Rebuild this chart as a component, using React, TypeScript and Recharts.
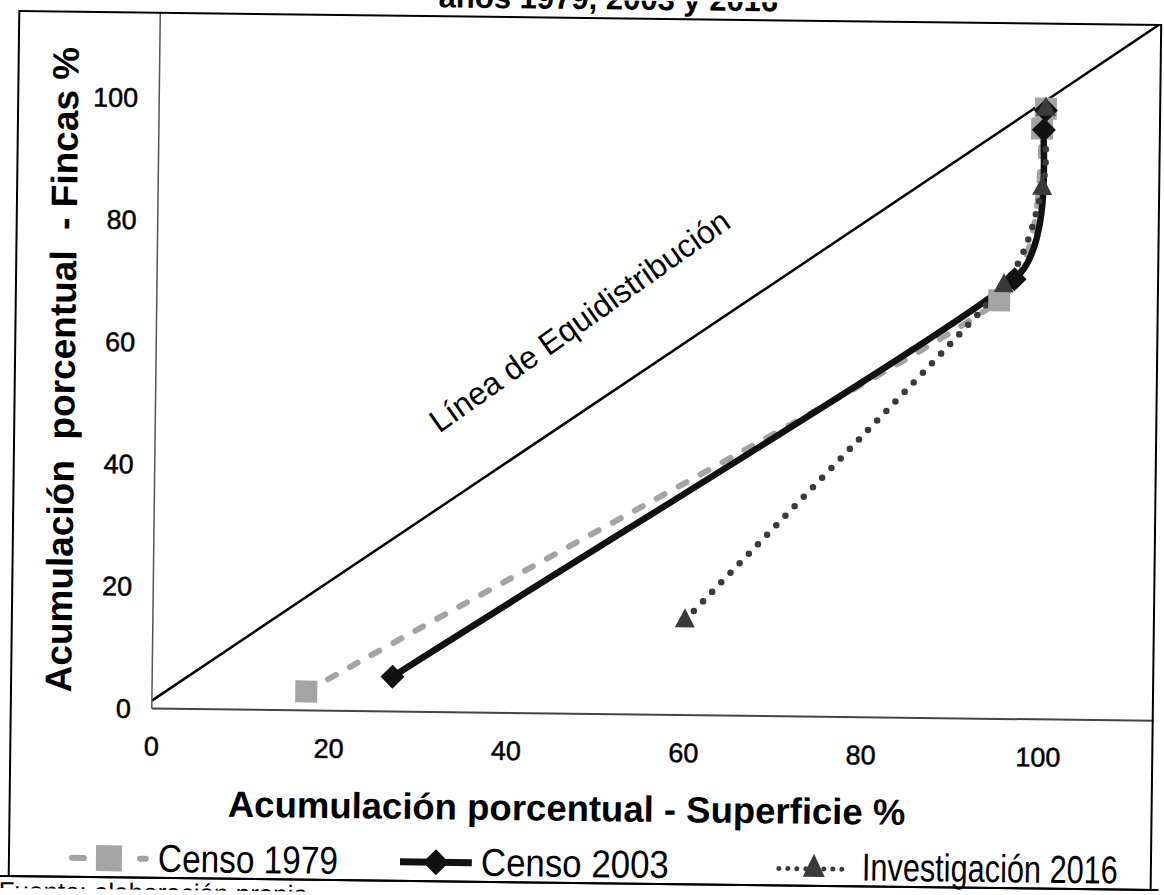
import React from 'react';
import { LineChart, Line, XAxis, YAxis, Legend } from 'recharts';

// ---- data ----
const xTicks = [0, 20, 40, 60, 80, 100];
const yTicks = [0, 20, 40, 60, 80, 100];
const xMax = 113;
const yMax = 113.9;

const censo1979Superficie = [17.4, 95, 99.6, 100];
const censo1979Fincas = [3.1, 68.5, 96.7, 100];

const censo2003Superficie = [27.1, 96.7, 99.8, 100];
const censo2003Fincas = [5.7, 72, 96.5, 99.7];

const inv2016Superficie = [60, 95.5, 99.7, 100];
const inv2016Fincas = [15.5, 71, 87, 100];

const equiSuperficie = [0, 112.6];
const equiFincas = [1.3, 113.9];

const seriesNames = ['Censo 1979', 'Censo 2003', 'Investigación 2016'];
const titleText = 'años 1979, 2003 y 2016';
const xTitle = 'Acumulación porcentual - Superficie %';
const yTitle = 'Acumulación  porcentual  - Fincas %';
const equiLabel = 'Línea de Equidistribución';
const sourceText = 'Fuente: elaboración propia';

const toPoints = (xs: number[], ys: number[]) => xs.map((x, i) => ({ x, y: ys[i] }));

const data1979 = toPoints(censo1979Superficie, censo1979Fincas);
const data2003 = toPoints(censo2003Superficie, censo2003Fincas);
const data2016 = toPoints(inv2016Superficie, inv2016Fincas);
const dataEqui = toPoints(equiSuperficie, equiFincas);

const SANS = "'Liberation Sans', Arial, sans-serif";

const C1979 = '#a4a4a4';
const C2003 = '#111111';
const C2016 = '#3a3a3a';

// Excel-like smoothed line: Bezier segments whose tangents follow the
// neighbouring points, with handle length limited by the adjacent segments.
const excelSmooth: any = (context: any) => {
  let pts: number[][] = [];
  return {
    areaStart() {},
    areaEnd() {},
    lineStart() {
      pts = [];
    },
    point(x: number, y: number) {
      pts.push([+x, +y]);
    },
    lineEnd() {
      const n = pts.length;
      if (!n) return;
      context.moveTo(pts[0][0], pts[0][1]);
      if (n === 1) return;
      const dist = (a: number[], b: number[]) => Math.hypot(b[0] - a[0], b[1] - a[1]);
      const dirs = pts.map((p, i) => {
        const prev = pts[Math.max(0, i - 1)];
        const next = pts[Math.min(n - 1, i + 1)];
        const dx = next[0] - prev[0];
        const dy = next[1] - prev[1];
        const len = Math.hypot(dx, dy) || 1;
        return [dx / len, dy / len];
      });
      for (let i = 0; i < n - 1; i++) {
        const a = pts[i];
        const b = pts[i + 1];
        const seg = dist(a, b);
        const prevSeg = i > 0 ? dist(pts[i - 1], a) : Infinity;
        const nextSeg = i + 2 < n ? dist(b, pts[i + 2]) : Infinity;
        const h1 = Math.min(seg / 3, (1.6 * prevSeg) / 3);
        const h2 = Math.min(seg / 3, (1.6 * nextSeg) / 3);
        context.bezierCurveTo(
          a[0] + dirs[i][0] * h1,
          a[1] + dirs[i][1] * h1,
          b[0] - dirs[i + 1][0] * h2,
          b[1] - dirs[i + 1][1] * h2,
          b[0],
          b[1]
        );
      }
    },
  };
};

const SquareDot = (props: any) => {
  const { cx, cy } = props;
  if (cx == null || cy == null) return <g />;
  const s = 22;
  return <rect x={cx - s / 2} y={cy - s / 2} width={s} height={s} fill={C1979} />;
};
const DiamondDot = (props: any) => {
  const { cx, cy } = props;
  if (cx == null || cy == null) return <g />;
  const r = 12;
  return <polygon points={`${cx},${cy - r} ${cx + r},${cy} ${cx},${cy + r} ${cx - r},${cy}`} fill={C2003} />;
};
const TriangleDot = (props: any) => {
  const { cx, cy } = props;
  if (cx == null || cy == null) return <g />;
  return <polygon points={`${cx},${cy - 12} ${cx + 10},${cy + 7} ${cx - 10},${cy + 7}`} fill={C2016} />;
};

const LegendIcon = ({ name }: { name: string }) => {
  if (name === seriesNames[0]) {
    return (
      <svg width={80} height={44} style={{ display: 'block' }}>
        <line x1={3} y1={23} x2={77} y2={23} stroke={C1979} strokeWidth={6} strokeDasharray="12 56 12" strokeLinecap="round" />
        <rect x={27} y={10} width={26} height={26} fill={C1979} />
      </svg>
    );
  }
  if (name === seriesNames[1]) {
    return (
      <svg width={72} height={44} style={{ display: 'block' }}>
        <line x1={0} y1={23} x2={72} y2={23} stroke={C2003} strokeWidth={7} />
        <polygon points="36,10 49,23 36,36 23,23" fill={C2003} />
      </svg>
    );
  }
  return (
    <svg width={78} height={44} style={{ display: 'block' }}>
      <line x1={4} y1={25} x2={74} y2={25} stroke={C2016} strokeWidth={5} strokeDasharray="0 9" strokeLinecap="round" />
      <polygon points="39,10 50,33 28,33" fill={C2016} />
    </svg>
  );
};

const legendLayout: Record<string, { left: number; textWidth: number }> = {
  'Censo 1979': { left: 74, textWidth: 180 },
  'Censo 2003': { left: 405, textWidth: 188 },
  'Investigación 2016': { left: 780, textWidth: 256 },
};

const renderLegend = (props: any) => {
  const payload = (props.payload || []).filter((p: any) => seriesNames.includes(p.value));
  return (
    <div style={{ position: 'relative', width: 1164, height: 44 }}>
      {payload.map((entry: any) => {
        const lay = legendLayout[entry.value];
        return (
          <div
            key={entry.value}
            style={{ position: 'absolute', left: lay.left, top: 0, height: 44, display: 'flex', alignItems: 'center' }}
          >
            <LegendIcon name={entry.value} />
            <svg width={lay.textWidth + 6} height={44} overflow="visible" style={{ display: 'block', marginLeft: 9, overflow: 'visible' }}>
              <text
                x={0}
                y={36}
                fontFamily={SANS}
                fontSize={39}
                fill="#000"
                textLength={lay.textWidth}
                lengthAdjust="spacingAndGlyphs"
              >
                {entry.value}
              </text>
            </svg>
          </div>
        );
      })}
    </div>
  );
};

export default function App() {
  return (
    <>
      <style>{'body{margin:0;background:#fff}'}</style>
      <div
        style={{
          position: 'relative',
          width: 1164,
          height: 895,
          overflow: 'hidden',
          background: '#fff',
          transform: 'rotate(0.7deg)',
          transformOrigin: '582px 447px',
        }}
      >
        <LineChart width={1164} height={895} margin={{ top: 18, right: 7, left: 95, bottom: 6 }}>
          <XAxis
            type="number"
            dataKey="x"
            domain={[0, xMax]}
            ticks={xTicks}
            allowDataOverflow
            height={117}
            tickSize={0}
            tickMargin={28}
            axisLine={{ stroke: '#444', strokeWidth: 2 }}
            tick={{ fill: '#000', fontSize: 27, fontFamily: SANS, stroke: '#000', strokeWidth: 0.5 }}
          />
          <YAxis
            type="number"
            dataKey="y"
            domain={[0, yMax]}
            ticks={yTicks}
            allowDataOverflow
            width={60}
            tickSize={0}
            tickMargin={21}
            axisLine={{ stroke: '#555', strokeWidth: 1.5 }}
            tick={{ fill: '#000', fontSize: 27, fontFamily: SANS, stroke: '#000', strokeWidth: 0.5 }}
          />
          <Legend verticalAlign="bottom" content={renderLegend} wrapperStyle={{ top: 841, left: 0, width: 1164, height: 44 }} />
          <Line
            data={dataEqui}
            dataKey="y"
            name="equi"
            legendType="none"
            type="linear"
            stroke="#000"
            strokeWidth={2.5}
            dot={false}
            activeDot={false}
            isAnimationActive={false}
          />
          <Line
            data={data1979}
            dataKey="y"
            name={seriesNames[0]}
            type={excelSmooth}
            stroke={C1979}
            strokeWidth={6}
            strokeDasharray="9 16"
            strokeLinecap="round"
            dot={<SquareDot />}
            activeDot={false}
            isAnimationActive={false}
          />
          <Line
            data={data2003}
            dataKey="y"
            name={seriesNames[1]}
            type={excelSmooth}
            stroke={C2003}
            strokeWidth={6.5}
            dot={<DiamondDot />}
            activeDot={false}
            isAnimationActive={false}
          />
          <Line
            data={data2016}
            dataKey="y"
            name={seriesNames[2]}
            type={excelSmooth}
            stroke={C2016}
            strokeWidth={6.5}
            strokeDasharray="0 13.2"
            strokeLinecap="round"
            dot={<TriangleDot />}
            activeDot={false}
            isAnimationActive={false}
          />
          <text x={603} y={9} textAnchor="middle" fontFamily={SANS} fontWeight="bold" fontSize={31} fill="#000">
            {titleText}
          </text>
          <text x={571} y={821} textAnchor="middle" fontFamily={SANS} fontWeight="bold" fontSize={36.5} fill="#000">
            {xTitle}
          </text>
          <text
            x={61}
            y={389}
            textAnchor="middle"
            fontFamily={SANS}
            fontWeight="bold"
            fontSize={37}
            fill="#000"
            xmlSpace="preserve"
            style={{ whiteSpace: 'pre' }}
            transform="rotate(-90 61 376)"
          >
            {yTitle}
          </text>
          <text
            x={578}
            y={332}
            textAnchor="middle"
            fontFamily={SANS}
            fontSize={32}
            fill="#000"
            transform="rotate(-36 578 321)"
          >
            {equiLabel}
          </text>
          <text x={4} y={907} fontFamily={SANS} fontSize={26} fill="#000">
            {sourceText}
          </text>
        </LineChart>
        <div
          style={{
            position: 'absolute',
            left: 13,
            top: 17,
            width: 1157 - 13,
            height: 884 - 17,
            border: '2px solid #000',
            boxSizing: 'border-box',
            pointerEvents: 'none',
          }}
        />
        <div style={{ position: 'absolute', left: 0, top: 882, width: 1164, height: 2, background: '#000' }} />
      </div>
    </>
  );
}
